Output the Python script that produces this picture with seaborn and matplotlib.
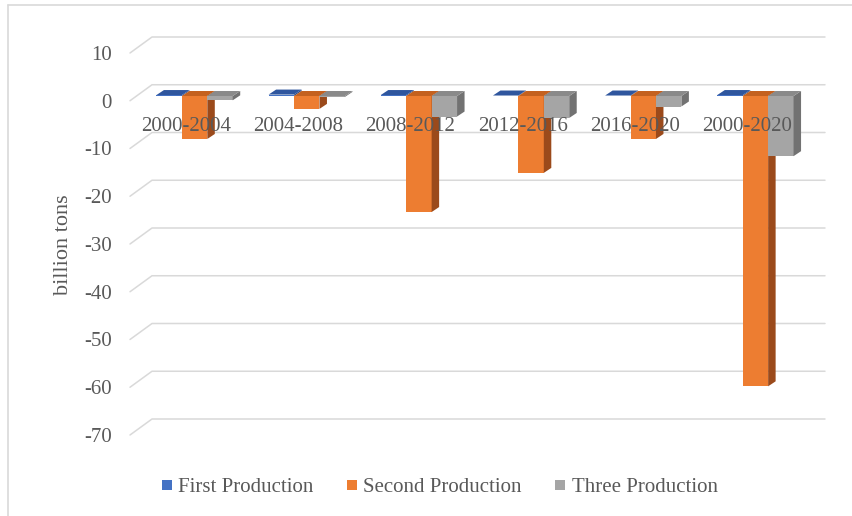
import numpy as np
import pandas as pd
import matplotlib
matplotlib.use("Agg")
import matplotlib.pyplot as plt
import seaborn as sns
from matplotlib.transforms import offset_copy
from matplotlib.patches import Polygon
from matplotlib.lines import Line2D

# Change in production by period (billion tons)
periods = ["2000-2004", "2004-2008", "2008-2012", "2012-2016", "2016-2020", "2000-2020"]
series = ["First Production", "Second Production", "Three Production"]
first = [0.2, 0.3, 0.2, 0.1, 0.1, 0.2]
second = [-9.0, -2.7, -24.3, -16.1, -9.0, -60.8]
third = [-0.9, -0.2, -4.3, -4.6, -2.2, -12.6]
yticks = list(range(10, -80, -10))

df = pd.DataFrame({
    "period": periods * 3,
    "series": np.repeat(series, len(periods)),
    "value": first + second + third,
})

colors = ["#4472C4", "#ED7D31", "#A5A5A5"]
top_colors = ["#2F569E", "#C4611F", "#8A8A8A"]
side_colors = ["#2A4A86", "#9B4A1B", "#727272"]
text_color = "#595959"
grid_color = "#D9D9D9"

sns.set_theme(style="white")
plt.rcParams["font.family"] = ["Liberation Serif", "DejaVu Serif"]

W, H = 852, 516
PX_X = 673 / 6        # pixels per category on the front plane
PX_Y = 4.775          # pixels per billion tons
wall_dx, wall_dy = 22 / PX_X, 16 / PX_Y      # depth of the back wall
face_dx, face_dy = 7.5 / PX_X, 5 / PX_Y      # depth of each column

fig = plt.figure(figsize=(W / 100, H / 100), dpi=100)
ax = fig.add_axes([130 / W, (H - 435) / H, 695 / W, 398 / H])

sns.barplot(data=df, x="period", y="value", hue="series", order=periods,
            hue_order=series, palette=colors, width=0.68, saturation=1,
            errorbar=None, legend=False, linewidth=0, ax=ax)

ax.set_xlim(-0.5, len(periods) - 0.5 + wall_dx)
ax.set_ylim(-70, 10 + wall_dy)

# side and back wall gridlines
for v in yticks:
    ax.plot([-0.5, -0.5 + wall_dx, len(periods) - 0.5 + wall_dx],
            [v, v + wall_dy, v + wall_dy],
            color=grid_color, lw=1.1, clip_on=False, zorder=1)

# columns sit partway into the depth of the plot
bar_tr = offset_copy(ax.transData, fig=fig, x=8.5, y=4.75, units="dots")
rgb = [matplotlib.colors.to_rgb(c) for c in colors]
for p in list(ax.patches):
    fc = matplotlib.colors.to_rgb(p.get_facecolor())
    k = int(np.argmin([sum((a - b) ** 2 for a, b in zip(fc, c)) for c in rgb]))
    x0, w = p.get_x(), p.get_width()
    y0, h = p.get_y(), p.get_height()
    top, bot = max(y0, y0 + h), min(y0, y0 + h)
    z = 3 + 0.1 * k
    p.set_transform(bar_tr)
    p.set_zorder(z)
    p.set_linewidth(0)
    side = Polygon([(x0 + w, top), (x0 + w + face_dx, top + face_dy),
                    (x0 + w + face_dx, bot + face_dy), (x0 + w, bot)],
                   closed=True, facecolor=side_colors[k], lw=0,
                   transform=bar_tr, zorder=z, clip_on=False)
    cap = Polygon([(x0, top), (x0 + w, top), (x0 + w + face_dx, top + face_dy),
                   (x0 + face_dx, top + face_dy)],
                  closed=True, facecolor=top_colors[k], lw=0,
                  transform=bar_tr, zorder=z, clip_on=False)
    ax.add_patch(side)
    ax.add_patch(cap)

# category labels along the zero line
lab_tr = offset_copy(ax.transData, fig=fig, x=0, y=-26, units="dots")
for i, name in enumerate(periods):
    ax.text(i, 0, name, transform=lab_tr, ha="center", va="center",
            fontsize=15, color=text_color, zorder=10)

ax.set_xticks([])
ax.set_yticks(yticks)
ax.set_yticklabels([str(t) for t in yticks])
ax.tick_params(axis="y", length=0, pad=13, labelsize=15, labelcolor=text_color)
ax.set_xlabel("")
ax.set_ylabel("")
for s in ax.spines.values():
    s.set_visible(False)
ax.patch.set_alpha(0)

fig.text(63 / W, 1 - 245 / H, "billion tons", rotation=90, ha="center",
         va="center", fontsize=16, color=text_color)

handles = [Line2D([], [], linestyle="none", marker="s", markersize=7.6,
                  markerfacecolor=c, markeredgewidth=0) for c in colors]
fig.legend(handles, series, loc="center", bbox_to_anchor=(0.516, 1 - 487 / H),
           ncol=3, frameon=False, fontsize=15, labelcolor=text_color,
           handlelength=0.5, handletextpad=0.3, columnspacing=1.6)

# chart area border
fig.add_artist(Line2D([8 / W, 8 / W], [1 - 5 / H, 0], color=grid_color,
                      lw=1.2, transform=fig.transFigure))
fig.add_artist(Line2D([8 / W, 1], [1 - 5 / H, 1 - 5 / H], color=grid_color,
                      lw=1.2, transform=fig.transFigure))

fig.savefig("out.png", dpi=100)
